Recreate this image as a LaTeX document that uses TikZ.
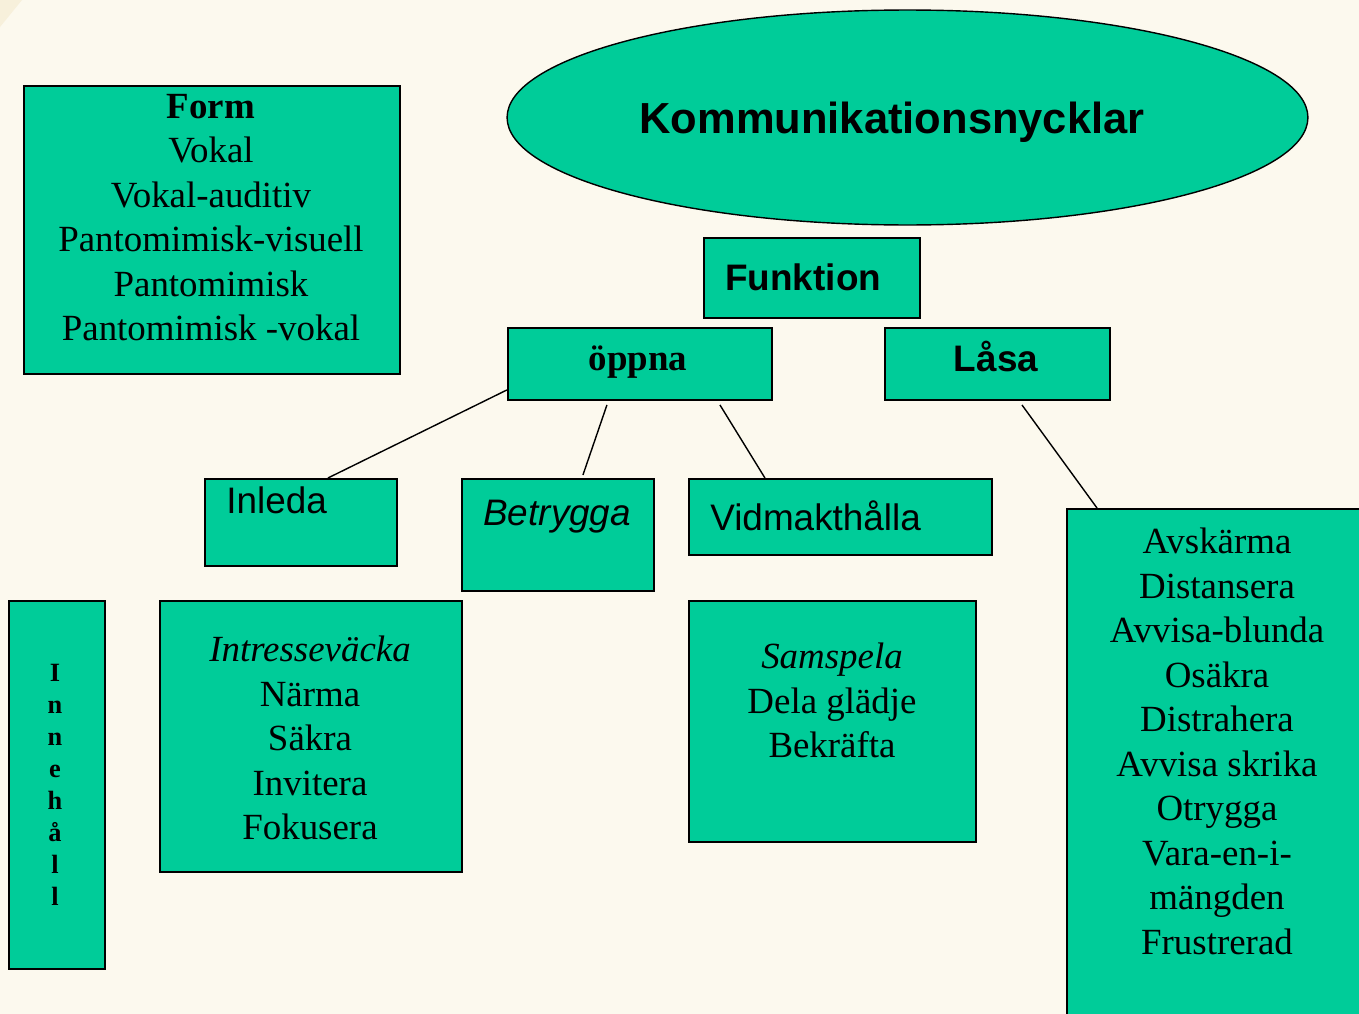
\documentclass[tikz,border=0pt]{standalone}
\usepackage{fontspec}
\setmainfont{Liberation Serif}
\setsansfont{Liberation Sans}
\usetikzlibrary{shapes.geometric}

\definecolor{cream}{HTML}{FCF9EE}
\definecolor{creamdark}{HTML}{F7F0DB}
\definecolor{keygreen}{HTML}{00CC99}

\tikzset{
  box/.style={draw,line width=1.1pt,fill=keygreen,anchor=north west,inner sep=0pt},
  serif/.style={inner sep=0pt,align=center,font=\fontsize{21}{25.3}\selectfont},
  sans/.style={inner sep=0pt,font=\sffamily\fontsize{21}{25.3}\selectfont},
  link/.style={line width=0.8pt}
}

\begin{document}
\begin{tikzpicture}[x=0.02cm,y=-0.02cm]
  % page
  \fill[cream] (0,0) rectangle (1359,1014);
  \useasboundingbox (0,0) rectangle (1359,1014);
  \fill[creamdark] (0,0) -- (22,0) -- (0,27) -- cycle;

  % title
  \node[ellipse,draw,line width=0.8pt,fill=keygreen,minimum width=16.02cm,minimum height=4.3cm] (nycklar) at (907.5,117.5) {};
  \node[sans,anchor=base,font=\sffamily\bfseries\fontsize{24.75}{30}\selectfont] (nycklar-t) at (892,133) {Kommunikationsnycklar};

  % boxes
  \node[box,minimum width=7.52cm,minimum height=5.76cm] (form) at (23,85) {};
  \node[box,minimum width=4.32cm,minimum height=1.6cm] (funk) at (703,237) {};
  \node[box,minimum width=5.28cm,minimum height=1.44cm] (oppna) at (507,327) {};
  \node[box,minimum width=4.5cm,minimum height=1.44cm] (lasa) at (884,327) {};
  \node[box,minimum width=3.84cm,minimum height=1.74cm] (inleda) at (204,478) {};
  \node[box,minimum width=3.84cm,minimum height=2.24cm] (betrygga) at (461,478) {};
  \node[box,minimum width=6.06cm,minimum height=1.52cm] (vidmakt) at (688,478) {};
  \node[box,minimum width=6.04cm,minimum height=10.6cm] (avsk) at (1066,508) {};
  \node[box,minimum width=6.04cm,minimum height=5.42cm] (intresse) at (159,600) {};
  \node[box,minimum width=5.74cm,minimum height=4.82cm] (samspela) at (688,600) {};
  \node[box,minimum width=1.92cm,minimum height=7.36cm] (innehall) at (8,600) {};

  % texts
  \node[serif,anchor=north] (form-t) at (211,94) {\textbf{Form}\\Vokal\\Vokal-auditiv\\Pantomimisk-visuell\\Pantomimisk\\Pantomimisk -vokal};
  \node[sans,anchor=base west] (funk-t) at (725,290) {\bfseries Funktion};
  \node[serif,anchor=base] (oppna-t) at (638,370) {\bfseries öppna};
  \node[sans,anchor=base] (lasa-t) at (996,371) {\bfseries Låsa};
  \node[sans,anchor=base west] (inleda-t) at (226,513) {Inleda};
  \node[sans,anchor=base west] (betrygga-t) at (483,525) {\itshape Betrygga};
  \node[sans,anchor=base west] (vidmakt-t) at (710,530) {Vidmakthålla};
  \node[serif,anchor=north] (avsk-t) at (1217,528) {Avskärma\\Distansera\\Avvisa-blunda\\Osäkra\\Distrahera\\Avvisa skrika\\Otrygga\\Vara-en-i-\\mängden\\Frustrerad};
  \node[serif,anchor=north] (intresse-t) at (310,636) {\textit{Intresseväcka}\\Närma\\Säkra\\Invitera\\Fokusera};
  \node[serif,anchor=north] (samspela-t) at (832,643) {\textit{Samspela}\\Dela glädje\\Bekräfta};
  \node[serif,anchor=north,font=\bfseries\fontsize{15}{18.2}\selectfont] (innehall-t) at (55,664) {I\\n\\n\\e\\h\\å\\l\\l};

  % connectors
  \draw[link] ([yshift=0.22cm]oppna.south west) -- ([xshift=0.54cm]inleda.north);
  \draw[link] ([xshift=-0.66cm,yshift=-0.08cm]oppna.south) -- ([xshift=0.5cm,yshift=0.06cm]betrygga.north);
  \draw[link] ([xshift=1.6cm,yshift=-0.08cm]oppna.south) -- ([xshift=-1.51cm]vidmakt.north);
  \draw[link] ([xshift=0.49cm,yshift=-0.08cm]lasa.south) -- ([xshift=0.62cm]avsk.north west);
\end{tikzpicture}
\end{document}
